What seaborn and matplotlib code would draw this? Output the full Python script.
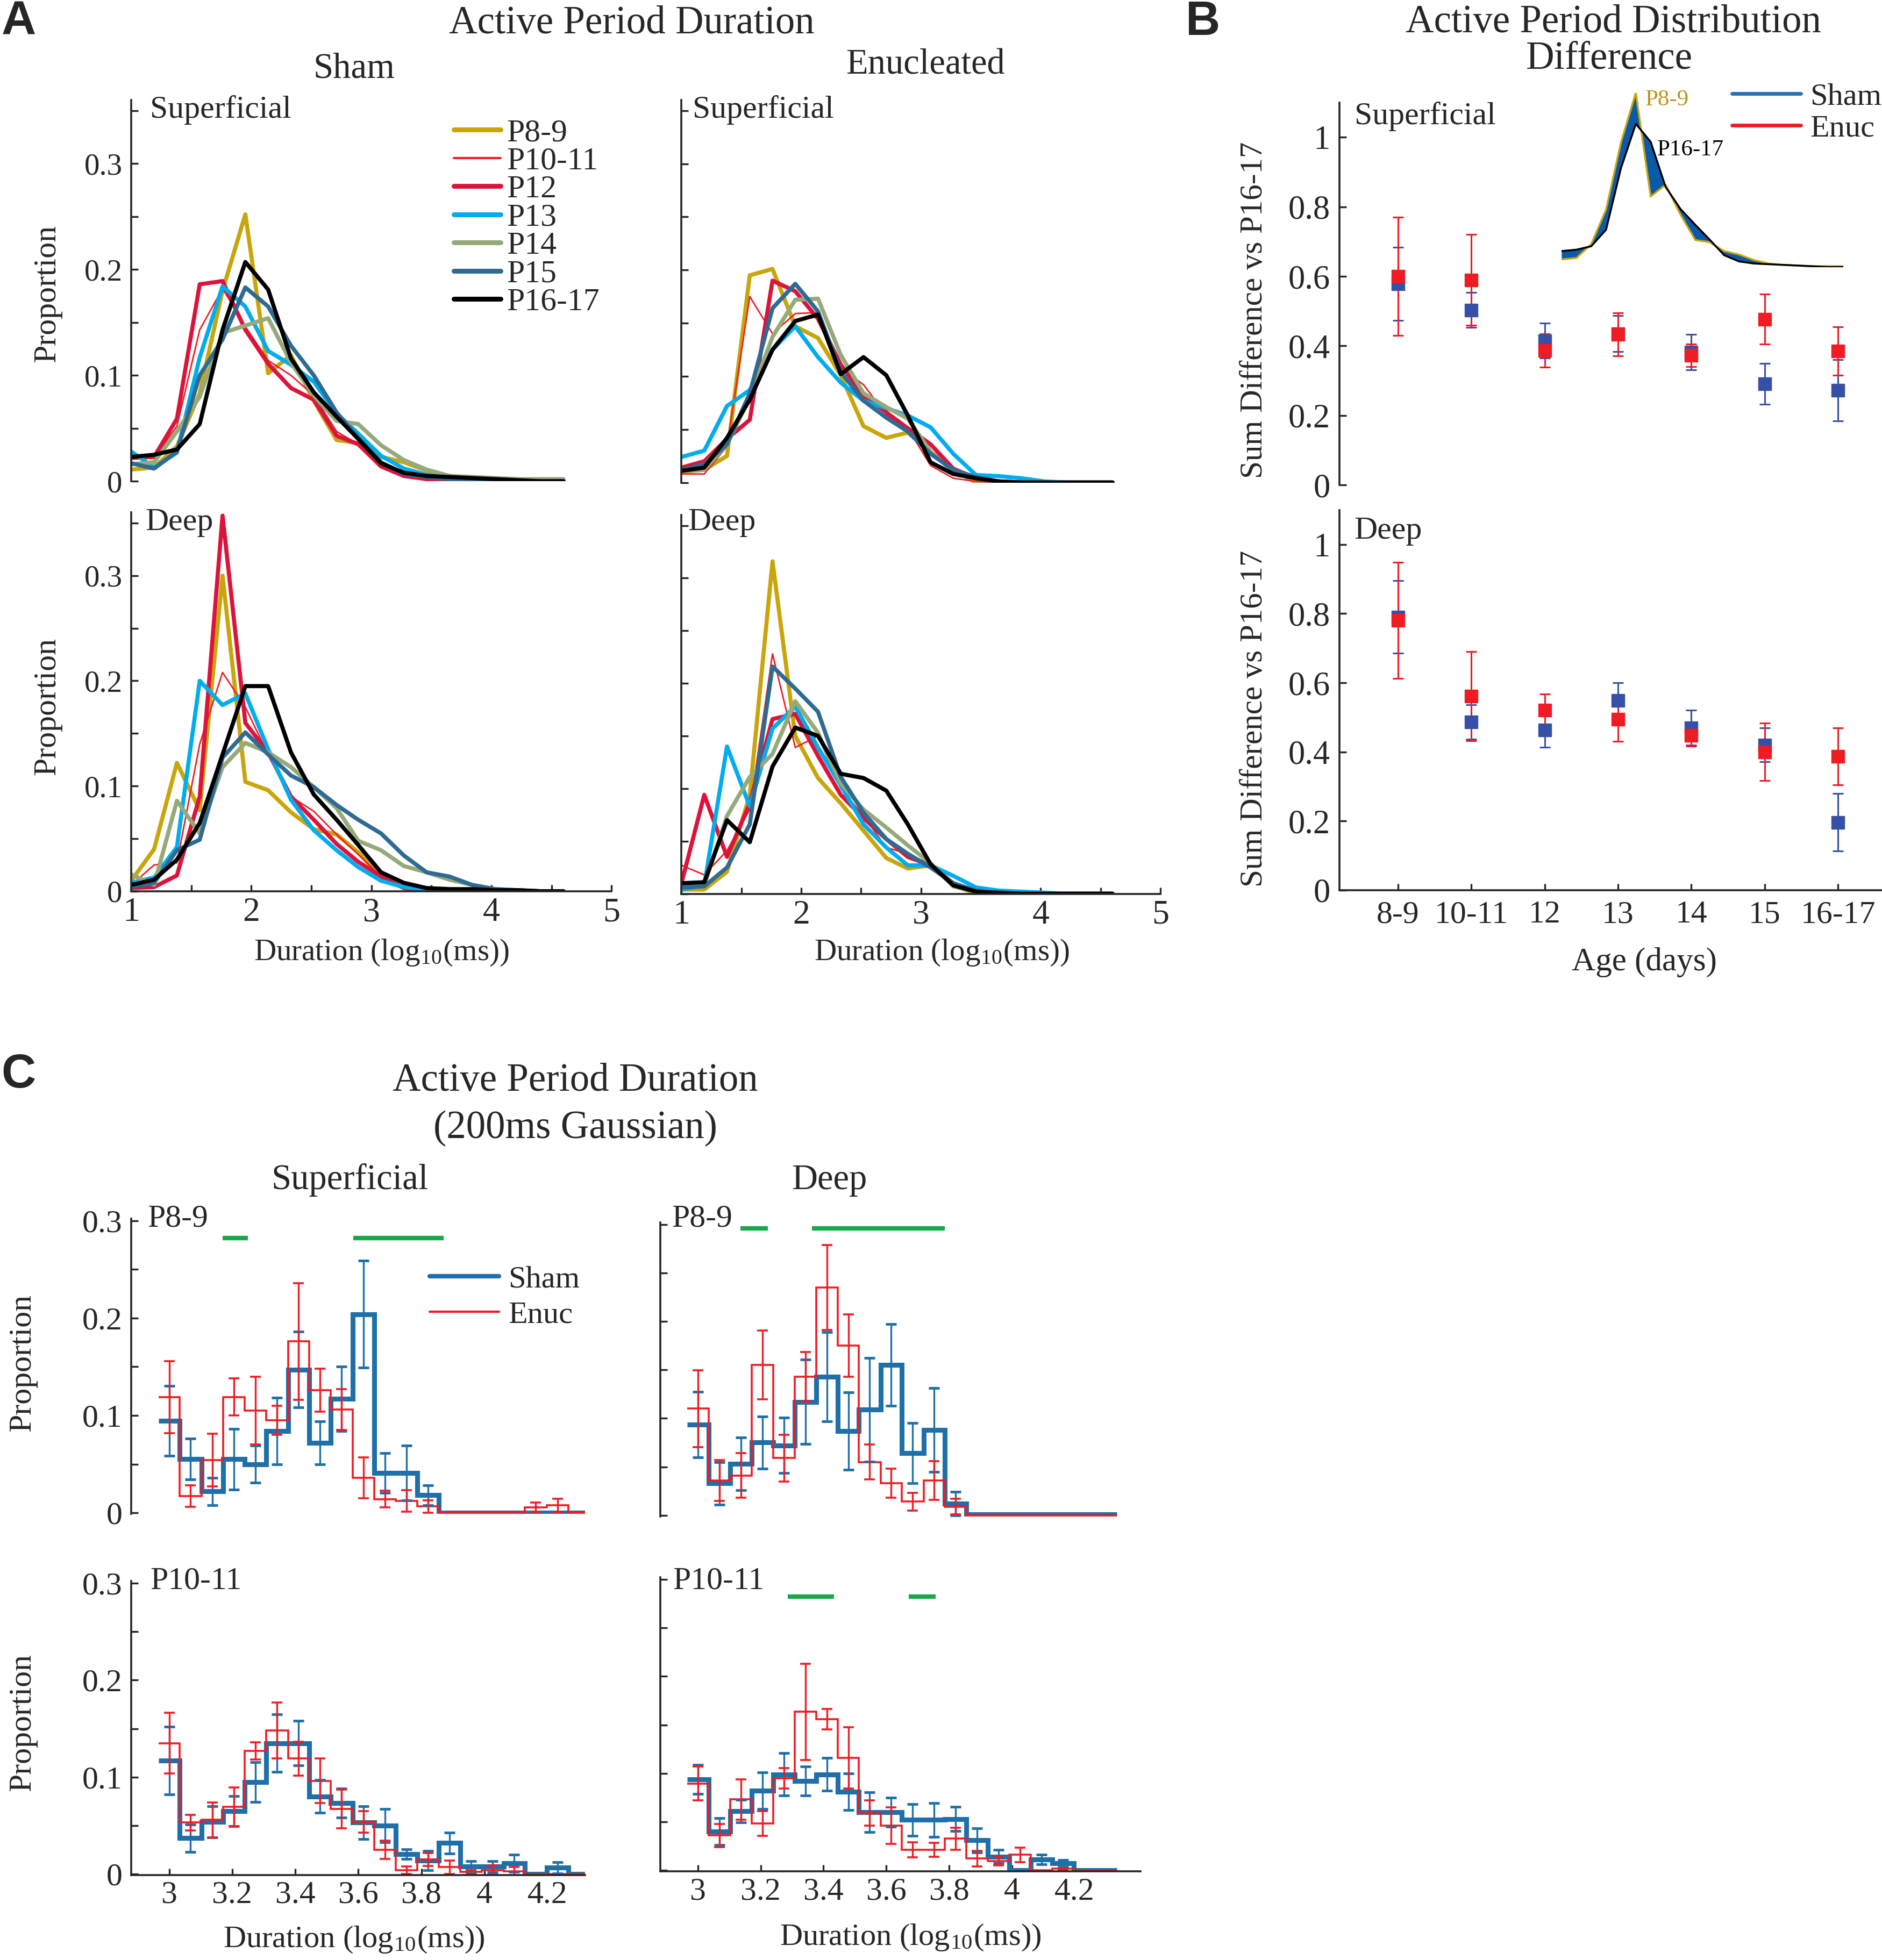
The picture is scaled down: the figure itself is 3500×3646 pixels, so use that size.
import numpy as np
import matplotlib
matplotlib.use('Agg')
import matplotlib.pyplot as plt
import seaborn as sns
from matplotlib.lines import Line2D

# ---------------- data ----------------
# Panel A: duration bins (log10 ms)
dur_x = [1.0, 1.19, 1.38, 1.57, 1.76, 1.95, 2.14, 2.33, 2.52, 2.71,
         2.89, 3.08, 3.27, 3.46, 3.65, 3.84, 4.03, 4.22, 4.41, 4.6]
ages = ['P8-9', 'P10-11', 'P12', 'P13', 'P14', 'P15', 'P16-17']

# Sham superficial
ss_p89 = [0.011, 0.013, 0.033, 0.083, 0.180, 0.252, 0.102, 0.119, 0.076, 0.039, 0.036, 0.023, 0.018, 0.010, 0.005, 0.003, 0.002, 0.001, 0.001, 0.001]
ss_p1011 = [0.025, 0.022, 0.052, 0.143, 0.182, 0.146, 0.114, 0.100, 0.081, 0.047, 0.035, 0.016, 0.006, 0.002, 0.001, 0, 0, 0, 0, 0]
ss_p12 = [0.022, 0.023, 0.059, 0.186, 0.189, 0.143, 0.111, 0.088, 0.077, 0.043, 0.035, 0.014, 0.005, 0.002, 0.001, 0, 0, 0, 0, 0]
ss_p13 = [0.028, 0.013, 0.027, 0.117, 0.184, 0.165, 0.123, 0.110, 0.094, 0.064, 0.045, 0.024, 0.012, 0.006, 0.003, 0.001, 0, 0, 0, 0]
ss_p14 = [0.016, 0.018, 0.047, 0.080, 0.140, 0.147, 0.154, 0.112, 0.081, 0.057, 0.054, 0.034, 0.020, 0.011, 0.005, 0.004, 0.003, 0.002, 0.002, 0.002]
ss_p15 = [0.017, 0.012, 0.028, 0.100, 0.134, 0.183, 0.165, 0.128, 0.100, 0.065, 0.041, 0.018, 0.007, 0.004, 0.002, 0.001, 0, 0, 0, 0]
ss_p1617 = [0.023, 0.025, 0.030, 0.054, 0.143, 0.207, 0.181, 0.116, 0.084, 0.061, 0.040, 0.017, 0.008, 0.005, 0.004, 0.003, 0.002, 0.001, 0, 0]

# Sham deep
sd_p89 = [0.010, 0.040, 0.122, 0.077, 0.300, 0.104, 0.096, 0.075, 0.059, 0.054, 0.037, 0.014, 0.006, 0.003, 0.002, 0.001, 0, 0, 0, 0]
sd_p1011 = [0.006, 0.025, 0.027, 0.140, 0.208, 0.175, 0.130, 0.090, 0.076, 0.054, 0.035, 0.014, 0.004, 0.001, 0, 0, 0, 0, 0, 0]
sd_p12 = [0.003, 0.004, 0.015, 0.090, 0.357, 0.160, 0.132, 0.090, 0.068, 0.045, 0.028, 0.014, 0.003, 0.001, 0, 0, 0, 0, 0, 0]
sd_p13 = [0.008, 0.013, 0.042, 0.200, 0.177, 0.188, 0.135, 0.087, 0.058, 0.039, 0.023, 0.010, 0.004, 0.002, 0.001, 0, 0, 0, 0, 0]
sd_p14 = [0.016, 0.006, 0.086, 0.055, 0.118, 0.141, 0.132, 0.118, 0.099, 0.079, 0.048, 0.039, 0.024, 0.018, 0.011, 0.006, 0.002, 0.001, 0, 0]
sd_p15 = [0.004, 0.008, 0.039, 0.049, 0.127, 0.151, 0.130, 0.110, 0.099, 0.082, 0.068, 0.055, 0.034, 0.018, 0.014, 0.006, 0.002, 0.001, 0, 0]
sd_p1617 = [0.006, 0.011, 0.030, 0.065, 0.130, 0.195, 0.195, 0.132, 0.092, 0.068, 0.044, 0.018, 0.008, 0.003, 0.002, 0.002, 0.001, 0.001, 0, 0]

# Enucleated superficial
es_p89 = [0.010, 0.012, 0.025, 0.195, 0.201, 0.147, 0.136, 0.101, 0.053, 0.042, 0.047, 0.029, 0.012, 0, 0, 0, 0, 0, 0, 0]
es_p1011 = [0.008, 0.008, 0.034, 0.175, 0.140, 0.159, 0.160, 0.108, 0.092, 0.064, 0.051, 0.016, 0.004, 0.001, 0, 0, 0, 0, 0, 0]
es_p12 = [0.014, 0.020, 0.041, 0.059, 0.190, 0.180, 0.154, 0.111, 0.082, 0.066, 0.051, 0.036, 0.013, 0.004, 0.001, 0, 0, 0, 0, 0]
es_p13 = [0.024, 0.030, 0.072, 0.087, 0.125, 0.147, 0.118, 0.094, 0.077, 0.070, 0.063, 0.052, 0.027, 0.007, 0.006, 0.004, 0.001, 0, 0, 0]
es_p14 = [0.011, 0.012, 0.036, 0.080, 0.137, 0.172, 0.173, 0.120, 0.084, 0.071, 0.060, 0.029, 0.010, 0.004, 0.001, 0, 0, 0, 0, 0]
es_p15 = [0.012, 0.017, 0.036, 0.084, 0.164, 0.187, 0.161, 0.104, 0.077, 0.061, 0.048, 0.027, 0.012, 0.005, 0.001, 0, 0, 0, 0, 0]
es_p1617 = [0.011, 0.014, 0.042, 0.078, 0.125, 0.152, 0.158, 0.102, 0.118, 0.101, 0.063, 0.019, 0.008, 0.004, 0.001, 0, 0, 0, 0, 0]

# Enucleated deep
ed_p89 = [0.004, 0.004, 0.021, 0.094, 0.316, 0.150, 0.110, 0.086, 0.060, 0.034, 0.024, 0.027, 0.008, 0, 0, 0, 0, 0, 0, 0]
ed_p1011 = [0.027, 0.018, 0.041, 0.080, 0.228, 0.139, 0.150, 0.100, 0.074, 0.044, 0.038, 0.028, 0.010, 0.003, 0, 0, 0, 0, 0, 0]
ed_p12 = [0.010, 0.094, 0.035, 0.086, 0.166, 0.171, 0.131, 0.094, 0.072, 0.052, 0.035, 0.027, 0.010, 0.002, 0, 0, 0, 0, 0, 0]
ed_p13 = [0.004, 0.008, 0.140, 0.083, 0.157, 0.178, 0.139, 0.103, 0.066, 0.044, 0.027, 0.027, 0.017, 0.006, 0.003, 0.002, 0.001, 0, 0, 0]
ed_p14 = [0.007, 0.008, 0.074, 0.111, 0.133, 0.183, 0.153, 0.105, 0.080, 0.063, 0.046, 0.029, 0.007, 0.002, 0, 0, 0, 0, 0, 0]
ed_p15 = [0.006, 0.007, 0.025, 0.066, 0.216, 0.195, 0.173, 0.111, 0.077, 0.052, 0.038, 0.025, 0.010, 0.003, 0, 0, 0, 0, 0, 0]
ed_p1617 = [0.010, 0.011, 0.070, 0.049, 0.121, 0.158, 0.150, 0.114, 0.110, 0.098, 0.066, 0.028, 0.008, 0.002, 0.001, 0, 0, 0, 0, 0]

# Panel B: sum difference vs P16-17
age_days = ['8-9', '10-11', '12', '13', '14', '15', '16-17']
b_sup_sham = [0.578, 0.503, 0.415, 0.435, 0.382, 0.291, 0.272]
b_sup_sham_err = [0.105, 0.050, 0.050, 0.052, 0.051, 0.059, 0.088]
b_sup_enuc = [0.600, 0.590, 0.387, 0.433, 0.373, 0.477, 0.385]
b_sup_enuc_err = [0.170, 0.130, 0.048, 0.062, 0.032, 0.072, 0.070]
b_deep_sham = [0.790, 0.486, 0.463, 0.548, 0.470, 0.420, 0.196]
b_deep_sham_err = [0.105, 0.050, 0.050, 0.052, 0.051, 0.049, 0.083]
b_deep_enuc = [0.780, 0.561, 0.520, 0.494, 0.447, 0.400, 0.387]
b_deep_enuc_err = [0.168, 0.129, 0.047, 0.064, 0.031, 0.083, 0.083]

# Panel C: 200 ms gaussian histograms
c_bins = [3.0, 3.068, 3.137, 3.205, 3.274, 3.342, 3.411, 3.479, 3.547, 3.616,
          3.684, 3.753, 3.821, 3.889, 3.958, 4.026, 4.095, 4.163, 4.232, 4.3]
nan = np.nan
c_sup89_sham = [0.0945, 0.055, 0.022, 0.055, 0.050, 0.084, 0.147, 0.072, 0.117, 0.204, 0.041, 0.041, 0.018, 0, 0, 0, 0, 0, 0, 0]
c_sup89_sham_err = [0.036, 0.021, 0.014, 0.031, 0.019, 0.034, 0.039, 0.022, 0.033, 0.055, 0.0205, 0.028, 0.010, nan, nan, nan, nan, nan, nan, nan]
c_sup89_enuc = [0.119, 0.017, 0.054, 0.119, 0.105, 0.095, 0.176, 0.126, 0.106, 0.036, 0.014, 0.012, 0.0065, 0, 0, 0, 0, 0.0054, 0.0076, 0]
c_sup89_enuc_err = [0.037, 0.011, 0.027, 0.019, 0.035, 0.015, 0.060, 0.022, 0.021, 0.021, 0.0086, 0.011, 0.0065, nan, nan, nan, nan, 0.005, 0.007, 0]

c_deep89_sham = [0.0935, 0.033, 0.053, 0.075, 0.072, 0.117, 0.143, 0.087, 0.109, 0.155, 0.064, 0.088, 0.012, 0.001, 0.001, 0.001, 0.001, 0.001, 0.001, 0.001]
c_deep89_sham_err = [0.034, 0.022, 0.027, 0.027, 0.0285, 0.0435, 0.046, 0.040, 0.0535, 0.042, 0.031, 0.0435, 0.012, nan, nan, nan, nan, nan, nan, nan]
c_deep89_enuc = [0.110, 0.036, 0.041, 0.155, 0.059, 0.143, 0.235, 0.175, 0.055, 0.033, 0.014, 0.036, 0.009, 0, 0, 0, 0, 0, 0, 0]
c_deep89_enuc_err = [0.0395, 0.021, 0.023, 0.0355, 0.024, 0.0255, 0.044, 0.032, 0.018, 0.015, 0.009, 0.020, 0.008, 0, 0, 0, 0, 0, 0, 0]

c_sup1011_sham = [0.117, 0.037, 0.054, 0.065, 0.095, 0.135, 0.135, 0.080, 0.073, 0.053, 0.050, 0.0205, 0.014, 0.032, 0.0076, 0.0076, 0.011, 0, 0.0065, 0]
c_sup1011_sham_err = [0.035, 0.014, 0.016, 0.0156, 0.0205, 0.0295, 0.023, 0.017, 0.015, 0.017, 0.017, 0.005, 0.010, 0.011, 0.006, 0.006, 0.009, nan, 0.006, nan]
c_sup1011_enuc = [0.135, 0.053, 0.056, 0.0695, 0.127, 0.148, 0.119, 0.096, 0.067, 0.054, 0.025, 0.004, 0.015, 0.007, 0.002, 0.004, 0.003, 0, 0, 0]
c_sup1011_enuc_err = [0.0315, 0.008, 0.018, 0.020, 0.009, 0.029, 0.0175, 0.023, 0.020, 0.011, 0.0094, 0.004, 0.0067, 0.007, 0.002, 0.005, 0.004, nan, nan, 0]

c_deep1011_sham = [0.094, 0.040, 0.061, 0.082, 0.099, 0.092, 0.099, 0.081, 0.060, 0.060, 0.052, 0.052, 0.053, 0.031, 0.014, 0, 0.011, 0.007, 0, 0]
c_deep1011_sham_err = [0.015, 0.014, 0.0115, 0.0187, 0.0217, 0.015, 0.017, 0.0186, 0.0206, 0.015, 0.0165, 0.0174, 0.0125, 0.0125, 0.007, nan, 0.005, 0.0035, nan, nan]
c_deep1011_enuc = [0.0895, 0.036, 0.073, 0.0485, 0.095, 0.1635, 0.156, 0.116, 0.059, 0.046, 0.021, 0.021, 0.0325, 0.012, 0.0094, 0.016, 0, 0.0015, 0, 0]
c_deep1011_enuc_err = [0.0174, 0.012, 0.021, 0.0128, 0.0105, 0.0497, 0.0105, 0.0315, 0.013, 0.0187, 0.0077, 0.0073, 0.0112, 0.0082, 0.0045, 0.0075, nan, 0.001, nan, nan]

# significance bars (x start, x end)
sig_sup89 = [(3.17, 3.25), (3.585, 3.87)]
sig_deep89 = [(3.135, 3.222), (3.363, 3.786)]
sig_deep1011 = [(3.286, 3.434), (3.671, 3.758)]

# ---------------- style ----------------
age_colors = ['#c9a50a', '#ee1d23', '#dc143c', '#00adef', '#96a97a', '#2f6a93', '#000000']
age_widths = [5.5, 2, 5.5, 5.5, 5.5, 5.5, 5.5]
sham_col = '#1f6fa8'
enuc_col = '#ef1c24'
b_sham_col = '#3650a8'
green = '#17a84b'

sns.set_style('ticks')
plt.rcParams['font.family'] = ['Liberation Serif', 'DejaVu Serif']
plt.rcParams['mathtext.fontset'] = 'stix'
plt.rcParams['axes.linewidth'] = 2.6
for a in ('x', 'y'):
    plt.rcParams[a + 'tick.direction'] = 'in'
    plt.rcParams[a + 'tick.major.width'] = 2.4
    plt.rcParams[a + 'tick.minor.width'] = 2.4
    plt.rcParams[a + 'tick.major.size'] = 9
    plt.rcParams[a + 'tick.minor.size'] = 9

W, H = 1505, 1568
fig = plt.figure(figsize=(35, 36.46), dpi=100)


def box(l, t, r, b):
    return [l / W, 1 - b / H, (r - l) / W, (b - t) / H]


def ftext(x, y, s, **kw):
    kw.setdefault('ha', 'center')
    kw.setdefault('va', 'center')
    fig.text(x / W, 1 - y / H, s, **kw)


def clean(ax, bottom=True):
    sns.despine(ax=ax)
    if not bottom:
        ax.spines['bottom'].set_visible(False)
        ax.tick_params(axis='x', which='both', bottom=False, labelbottom=False)


# ---------------- panel A ----------------
a_boxes = [box(105, 80, 489, 385), box(105, 410, 489, 713),
           box(545, 80, 928, 386), box(545, 412, 928, 715)]
a_sets = [[ss_p89, ss_p1011, ss_p12, ss_p13, ss_p14, ss_p15, ss_p1617],
          [sd_p89, sd_p1011, sd_p12, sd_p13, sd_p14, sd_p15, sd_p1617],
          [es_p89, es_p1011, es_p12, es_p13, es_p14, es_p15, es_p1617],
          [ed_p89, ed_p1011, ed_p12, ed_p13, ed_p14, ed_p15, ed_p1617]]
a_axes = []
for k, (bx, series) in enumerate(zip(a_boxes, a_sets)):
    ax = fig.add_axes(bx)
    for vals, col, lw in zip(series, age_colors, age_widths):
        sns.lineplot(x=dur_x, y=vals, color=col, linewidth=lw, ax=ax)
    ax.set_xlim(1, 5)
    ax.set_ylim(0, 0.36)
    ax.set_yticks([0, 0.1, 0.2, 0.3])
    ax.set_yticks([0.05, 0.15, 0.25, 0.35], minor=True)
    if k < 2:
        ax.set_yticklabels(['0', '0.1', '0.2', '0.3'], fontsize=41)
    else:
        ax.set_yticklabels([])
    ax.set_xticks([1, 2, 3, 4, 5])
    ax.set_xticks([1.5, 2.5, 3.5, 4.5], minor=True)
    ax.set_xticklabels(['1', '2', '3', '4', '5'], fontsize=46)
    ax.tick_params(axis='x', pad=8)
    ax.tick_params(axis='y', pad=12)
    clean(ax, bottom=(k % 2 == 1))
    ax.set_xlabel('')
    ax.set_ylabel('')
    a_axes.append(ax)

handles = [Line2D([0], [0], color=c, lw=w + 1) for c, w in zip(age_colors, age_widths)]
a_axes[0].legend(handles, ages, loc='upper left', bbox_to_anchor=(0.645, 0.985),
                 frameon=False, fontsize=43, handlelength=1.45, handletextpad=0.2,
                 labelspacing=-0.04, borderaxespad=0)

ftext(15, 18, 'A', fontsize=64, fontweight='bold', family='Liberation Sans')
ftext(505, 19, 'Active Period Duration', fontsize=52.5)
ftext(283, 55, 'Sham', fontsize=48)
ftext(740, 52, 'Enucleated', fontsize=48)
for xx in (120, 554):
    ftext(xx, 88, 'Superficial', fontsize=43, ha='left')
    ftext(xx - 4, 418, 'Deep', fontsize=43, ha='left')
for yy in (235, 565):
    ftext(38, yy, 'Proportion', fontsize=43, rotation=90)
xlab = r'Duration (log$_{\mathregular{10}}$(ms))'
ftext(305, 762, xlab, fontsize=41)
ftext(753, 762, xlab, fontsize=41)

# ---------------- panel B ----------------
b_boxes = [box(1071, 82, 1505, 388), box(1071, 408, 1505, 712)]
b_data = [(b_sup_sham, b_sup_sham_err, b_sup_enuc, b_sup_enuc_err),
          (b_deep_sham, b_deep_sham_err, b_deep_enuc, b_deep_enuc_err)]
pos = np.arange(len(age_days))
b_axes = []
for k, (bx, (sm, se, em, ee)) in enumerate(zip(b_boxes, b_data)):
    ax = fig.add_axes(bx)
    ax.errorbar(pos, sm, yerr=se, fmt='s', color=b_sham_col, ms=17,
                elinewidth=2.2, capsize=7, capthick=2.2)
    ax.errorbar(pos, em, yerr=ee, fmt='s', color=enuc_col, ms=17,
                elinewidth=2.2, capsize=7, capthick=2.2)
    ax.set_xlim(-0.8, 6.6)
    ax.set_ylim(0, 1.1)
    ax.set_yticks([0, 0.2, 0.4, 0.6, 0.8, 1.0])
    ax.set_yticklabels(['0', '0.2', '0.4', '0.6', '0.8', '1'], fontsize=45)
    ax.set_xticks(pos)
    ax.set_xticklabels(age_days, fontsize=43)
    ax.tick_params(axis='x', pad=14)
    ax.tick_params(axis='y', pad=12)
    clean(ax, bottom=(k == 1))
    b_axes.append(ax)

# inset: P8-9 vs P16-17 (sham superficial)
ins = b_axes[0].inset_axes([2.23, 0.627, 3.84, 0.5], transform=b_axes[0].transData)
ins.fill_between(dur_x, ss_p89, ss_p1617, color='#0b5aa8', lw=0)
sns.lineplot(x=dur_x, y=ss_p89, color='#c9a50a', linewidth=2.5, ax=ins)
sns.lineplot(x=dur_x, y=ss_p1617, color='black', linewidth=2.5, ax=ins)
ins.set_xlim(1, 4.6)
ins.set_ylim(0, 0.2515)
ins.axis('off')

b_axes[0].legend([Line2D([0], [0], color='#2a72b8', lw=5), Line2D([0], [0], color=enuc_col, lw=5)],
                 ['Sham', 'Enuc'], loc='upper left', bbox_to_anchor=(0.7, 1.085),
                 frameon=False, fontsize=42, handlelength=2.2, handletextpad=0.3,
                 labelspacing=0.1, borderaxespad=0)

ftext(962, 18, 'B', fontsize=64, fontweight='bold', family='Liberation Sans')
ftext(1290, 18, 'Active Period Distribution', fontsize=52.5)
ftext(1287, 47, 'Difference', fontsize=52.5)
ftext(1083, 93, 'Superficial', fontsize=43, ha='left')
ftext(1083, 425, 'Deep', fontsize=43, ha='left')
ftext(1333, 80, 'P8-9', fontsize=31, color='#b8961a', ha='center')
ftext(1352, 120, 'P16-17', fontsize=31, color='black', ha='center')
for yy in (248, 575):
    ftext(1003, yy, 'Sum Difference vs P16-17', fontsize=42.5, rotation=90)
ftext(1315, 770, 'Age (days)', fontsize=44)

# ---------------- panel C ----------------
half = (c_bins[1] - c_bins[0]) / 2
edges = np.append(np.array(c_bins) - half, c_bins[-1] + half)
c_boxes = [box(105, 975, 468, 1211), box(528, 978, 912, 1213),
           box(105, 1265, 468, 1500), box(528, 1262, 912, 1497)]
c_xlims = [(2.88, 4.32), (2.88, 4.41), (2.88, 4.32), (2.88, 4.41)]
c_data = [(c_sup89_sham, c_sup89_sham_err, c_sup89_enuc, c_sup89_enuc_err),
          (c_deep89_sham, c_deep89_sham_err, c_deep89_enuc, c_deep89_enuc_err),
          (c_sup1011_sham, c_sup1011_sham_err, c_sup1011_enuc, c_sup1011_enuc_err),
          (c_deep1011_sham, c_deep1011_sham_err, c_deep1011_enuc, c_deep1011_enuc_err)]
c_sig = [sig_sup89, sig_deep89, None, sig_deep1011]
c_sig_y = [0.282, 0.296, None, 0.2825]
c_axes = []
for k, (bx, xl, (sm, se, em, ee)) in enumerate(zip(c_boxes, c_xlims, c_data)):
    ax = fig.add_axes(bx)
    ax.stairs(sm, edges, baseline=None, color=sham_col, linewidth=6.5)
    ax.errorbar(c_bins, sm, yerr=se, fmt='none', ecolor=sham_col,
                elinewidth=2.4, capsize=7, capthick=3.5)
    ax.stairs(em, edges, baseline=None, color=enuc_col, linewidth=2.6)
    ax.errorbar(c_bins, em, yerr=ee, fmt='none', ecolor=enuc_col,
                elinewidth=2.4, capsize=7, capthick=2.6)
    if c_sig[k] is not None:
        for x0, x1 in c_sig[k]:
            ax.hlines(c_sig_y[k], x0, x1, color=green, lw=6)
    ax.set_xlim(*xl)
    ax.set_ylim(-0.001, 0.302)
    ax.set_yticks([0, 0.1, 0.2, 0.3])
    ax.set_yticks([0.05, 0.15, 0.25], minor=True)
    if k % 2 == 0:
        ax.set_yticklabels(['0', '0.1', '0.2', '0.3'], fontsize=43)
    else:
        ax.set_yticklabels([])
    ax.set_xticks([3, 3.2, 3.4, 3.6, 3.8, 4, 4.2])
    ax.set_xticklabels(['3', '3.2', '3.4', '3.6', '3.8', '4', '4.2'], fontsize=43)
    ax.tick_params(axis='x', pad=8)
    ax.tick_params(axis='y', pad=12)
    clean(ax, bottom=(k >= 2))
    c_axes.append(ax)

c_axes[0].legend([Line2D([0], [0], color=sham_col, lw=6), Line2D([0], [0], color=enuc_col, lw=3)],
                 ['Sham', 'Enuc'], loc='upper left', bbox_to_anchor=(0.63, 0.885),
                 frameon=False, fontsize=42, handlelength=2.2, handletextpad=0.3,
                 labelspacing=0.22, borderaxespad=0)

ftext(15, 860, 'C', fontsize=64, fontweight='bold', family='Liberation Sans')
ftext(460, 865, 'Active Period Duration', fontsize=52.5)
ftext(460, 903, '(200ms Gaussian)', fontsize=52.5)
ftext(280, 944, 'Superficial', fontsize=48)
ftext(663, 944, 'Deep', fontsize=48)
ftext(118, 975, 'P8-9', fontsize=43, ha='left')
ftext(537, 975, 'P8-9', fontsize=43, ha='left')
ftext(120, 1265, 'P10-11', fontsize=43, ha='left')
ftext(538, 1265, 'P10-11', fontsize=43, ha='left')
for yy in (1090, 1378):
    ftext(18, yy, 'Proportion', fontsize=43, rotation=90)
ftext(283, 1552, xlab, fontsize=42)
ftext(728, 1550, xlab, fontsize=42)

fig.savefig('out.png', dpi=100, facecolor='white')
